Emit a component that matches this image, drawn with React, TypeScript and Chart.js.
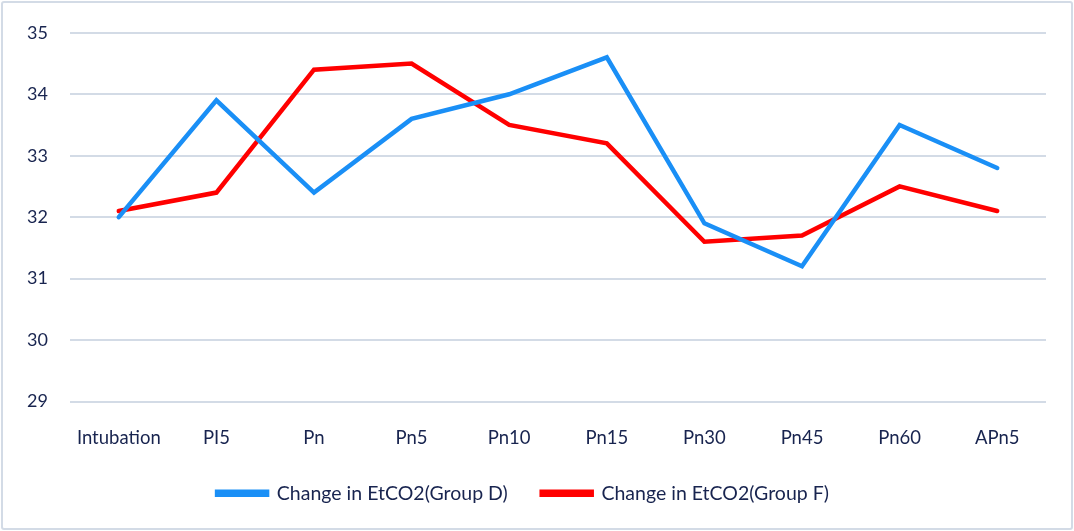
import React, { useEffect, useRef } from "react";
import { Chart, registerables } from "chart.js";

Chart.register(...registerables);

const categories = ["Intubation", "PI5", "Pn", "Pn5", "Pn10", "Pn15", "Pn30", "Pn45", "Pn60", "APn5"];
const groupD = [32.0, 33.9, 32.4, 33.6, 34.0, 34.6, 31.9, 31.2, 33.5, 32.8];
const groupF = [32.1, 32.4, 34.4, 34.5, 33.5, 33.2, 31.6, 31.7, 32.5, 32.1];
const labelD = "Change in EtCO2(Group D)";
const labelF = "Change in EtCO2(Group F)";
const yMin = 29;
const yMax = 35;

const textColor = "#18244f";
const gridColor = "#d3dbe6";
const fontFamily = "Lato, 'Open Sans', sans-serif";

export default function App() {
  const ref = useRef<HTMLCanvasElement | null>(null);

  useEffect(() => {
    document.body.style.margin = "0";
    if (!ref.current) return;
    const chart = new Chart(ref.current, {
      type: "line",
      data: {
        labels: categories,
        datasets: [
          {
            label: labelD,
            data: groupD,
            borderColor: "#1a8ff6",
            backgroundColor: "#1a8ff6",
            borderWidth: 4.5,
            pointRadius: 0,
            tension: 0,
            borderCapStyle: "round",
            borderJoinStyle: "miter",
          },
          {
            label: labelF,
            data: groupF,
            borderColor: "#ff0000",
            backgroundColor: "#ff0000",
            borderWidth: 4.5,
            pointRadius: 0,
            tension: 0,
            borderCapStyle: "round",
            borderJoinStyle: "miter",
          },
        ],
      },
      options: {
        animation: false,
        responsive: false,
        maintainAspectRatio: false,
        layout: { padding: { left: 0, right: 28, top: 26, bottom: 18 } },
        plugins: {
          tooltip: { enabled: false },
          legend: {
            position: "bottom",
            labels: {
              boxWidth: 50,
              boxHeight: 3,
              color: textColor,
              padding: 34,
              font: { family: fontFamily, size: 19.5 },
            },
          },
        },
        scales: {
          x: {
            offset: true,
            grid: { display: false, drawTicks: false },
            border: { display: false },
            ticks: {
              color: textColor,
              padding: 25,
              font: { family: fontFamily, size: 18.5 },
              maxRotation: 0,
              autoSkip: false,
            },
            afterFit: (s: any) => {
              s.height = 48;
            },
          },
          y: {
            min: yMin,
            max: yMax,
            grid: { color: gridColor, lineWidth: 2, drawTicks: false },
            border: { display: false },
            ticks: {
              stepSize: 1,
              color: textColor,
              padding: 22,
              font: { family: fontFamily, size: 18 },
            },
            afterFit: (s: any) => {
              s.width = 70;
            },
          },
        },
      },
    });
    return () => chart.destroy();
  }, []);

  return (
    <div style={{ position: "relative", width: 1074, height: 531, background: "#fff" }}>
      <canvas ref={ref} width={1074} height={531} style={{ display: "block" }} />
      <div
        style={{
          position: "absolute",
          left: 1,
          top: 1,
          right: 1,
          bottom: 1,
          border: "2px solid #d3dbe6",
          borderRadius: 3,
          pointerEvents: "none",
        }}
      />
    </div>
  );
}
